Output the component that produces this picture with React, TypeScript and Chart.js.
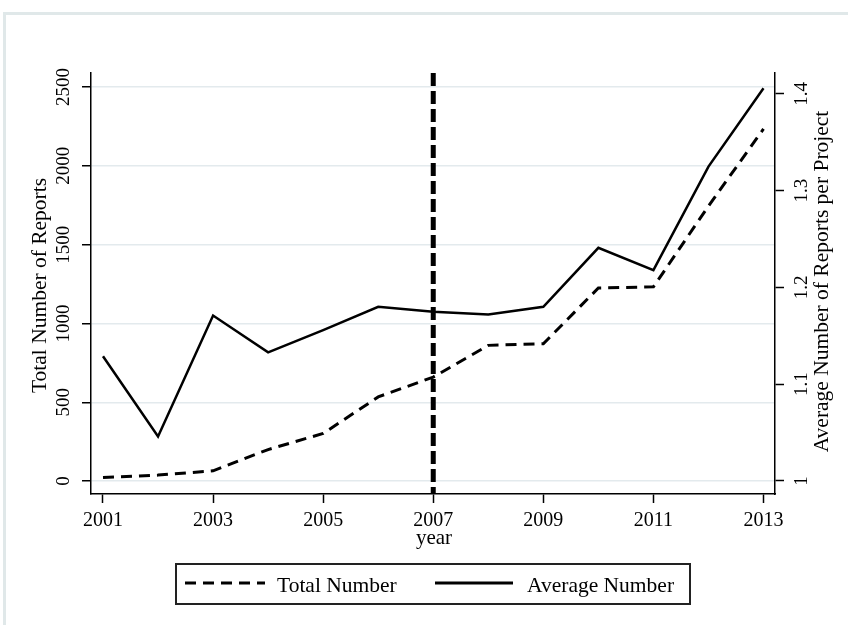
import React, { useEffect, useRef } from 'react';
import { Chart, registerables } from 'chart.js';

Chart.register(...registerables);

// ---- data ----
const years = [2001, 2002, 2003, 2004, 2005, 2006, 2007, 2008, 2009, 2010, 2011, 2012, 2013];
const totalReports = [23, 38, 65, 200, 302, 534, 660, 861, 871, 1225, 1232, 1745, 2234];
const averageReports = [1.129, 1.046, 1.171, 1.133, 1.156, 1.18, 1.175, 1.172, 1.18, 1.241, 1.218, 1.325, 1.406];
const xTickValues = [2001, 2003, 2005, 2007, 2009, 2011, 2013];
const leftTickValues = [0, 500, 1000, 1500, 2000, 2500];
const rightTickValues = [1, 1.1, 1.2, 1.3, 1.4];
const referenceYear = 2007;
const seriesLabels = ['Total Number', 'Average Number'];
const leftAxisTitle = 'Total Number of Reports';
const rightAxisTitle = 'Average Number of Reports per Project';
const xAxisTitle = 'year';

const FONT = "'Liberation Serif', 'Times New Roman', serif";
const DASH = [11, 7];

const decorPlugin = {
  id: 'decor',
  beforeDraw(chart: any) {
    const ctx = chart.ctx;
    ctx.save();
    ctx.fillStyle = '#ffffff';
    ctx.fillRect(0, 0, chart.width, chart.height);
    ctx.strokeStyle = '#e0e8e9';
    ctx.lineWidth = 3;
    ctx.beginPath();
    ctx.moveTo(4.5, chart.height);
    ctx.lineTo(4.5, 13.5);
    ctx.lineTo(chart.width, 13.5);
    ctx.stroke();
    ctx.restore();
  },
  afterDatasetsDraw(chart: any) {
    const ctx = chart.ctx;
    const { top, bottom } = chart.chartArea;
    const x = chart.scales.x.getPixelForValue(referenceYear);
    ctx.save();
    ctx.strokeStyle = '#000';
    ctx.lineWidth = 5;
    ctx.setLineDash([13, 5]);
    ctx.beginPath();
    ctx.moveTo(x, top);
    ctx.lineTo(x, bottom);
    ctx.stroke();
    ctx.restore();
  },
  afterDraw(chart: any) {
    const ctx = chart.ctx;
    const { left, right, top, bottom } = chart.chartArea;
    const cy = (top + bottom) / 2;
    const cx = (left + right) / 2;
    ctx.save();
    ctx.fillStyle = '#000';
    ctx.font = `21.5px ${FONT}`;
    ctx.textAlign = 'center';
    ctx.textBaseline = 'alphabetic';
    // left title
    ctx.save();
    ctx.translate(46, cy + 2);
    ctx.rotate(-Math.PI / 2);
    ctx.fillText(leftAxisTitle, 0, 0);
    ctx.restore();
    // right title
    ctx.save();
    ctx.translate(828, cy - 2);
    ctx.rotate(-Math.PI / 2);
    ctx.fillText(rightAxisTitle, 0, 0);
    ctx.restore();
    // x title
    ctx.font = `21px ${FONT}`;
    ctx.fillText(xAxisTitle, cx + 1, 544);

    // legend
    ctx.strokeStyle = '#222';
    ctx.lineWidth = 2;
    ctx.setLineDash([]);
    ctx.strokeRect(176, 564, 514, 40);
    const ly = 583;
    ctx.lineWidth = 3;
    ctx.strokeStyle = '#000';
    ctx.setLineDash(DASH);
    ctx.beginPath();
    ctx.moveTo(185, ly);
    ctx.lineTo(265, ly);
    ctx.stroke();
    ctx.setLineDash([]);
    ctx.lineWidth = 3;
    ctx.beginPath();
    ctx.moveTo(435, ly);
    ctx.lineTo(513, ly);
    ctx.stroke();
    ctx.textAlign = 'left';
    ctx.font = `21.5px ${FONT}`;
    ctx.fillText(seriesLabels[0], 277, 592);
    ctx.fillText(seriesLabels[1], 527, 592);
    ctx.restore();
  },
};

export default function App() {
  const ref = useRef<HTMLCanvasElement | null>(null);

  useEffect(() => {
    if (!ref.current) return;
    const tickFont = { family: FONT, size: 19 };
    const chart = new Chart(ref.current, {
      type: 'line',
      data: {
        datasets: [
          {
            label: seriesLabels[0],
            data: years.map((x, i) => ({ x, y: totalReports[i] })),
            yAxisID: 'y',
            borderColor: '#000',
            borderWidth: 3,
            borderDash: DASH,
            pointRadius: 0,
            tension: 0,
            fill: false,
          },
          {
            label: seriesLabels[1],
            data: years.map((x, i) => ({ x, y: averageReports[i] })),
            yAxisID: 'y1',
            borderColor: '#000',
            borderWidth: 2.5,
            pointRadius: 0,
            tension: 0,
            fill: false,
          },
        ],
      },
      options: {
        responsive: false,
        animation: false,
        devicePixelRatio: 1,
        layout: { padding: { left: 0, right: 0, top: 73, bottom: 0 } },
        plugins: {
          legend: { display: false },
          tooltip: { enabled: false },
          title: { display: false },
        },
        scales: {
          x: {
            type: 'linear',
            position: 'bottom',
            min: 2000.782,
            max: 2013.209,
            afterBuildTicks: (s: any) => {
              s.ticks = xTickValues.map((v) => ({ value: v }));
            },
            afterFit: (s: any) => {
              s.height = 131;
            },
            ticks: {
              font: { family: FONT, size: 20 },
              color: '#000',
              padding: 6,
              autoSkip: false,
              maxRotation: 0,
              minRotation: 0,
              callback: (v: any) => String(v),
            },
            grid: {
              drawOnChartArea: false,
              drawTicks: true,
              tickLength: 9,
              tickColor: '#000',
              tickWidth: 1.5,
            },
            border: { display: true, color: '#000', width: 1.5 },
          },
          y: {
            type: 'linear',
            position: 'left',
            min: -82,
            max: 2589,
            afterBuildTicks: (s: any) => {
              s.ticks = leftTickValues.map((v) => ({ value: v }));
            },
            afterFit: (s: any) => {
              s.width = 91;
            },
            ticks: {
              font: tickFont,
              color: '#000',
              minRotation: 90,
              maxRotation: 90,
              crossAlign: 'center',
              padding: -1.5,
              autoSkip: false,
              callback: (v: any) => String(v),
            },
            grid: {
              drawOnChartArea: true,
              color: '#e3eaed',
              lineWidth: 1.5,
              tickLength: 9,
              tickColor: '#000',
              tickWidth: 1.5,
            },
            border: { display: true, color: '#000', width: 1.5 },
          },
          y1: {
            type: 'linear',
            position: 'right',
            min: 0.98656,
            max: 1.4217,
            afterBuildTicks: (s: any) => {
              s.ticks = rightTickValues.map((v) => ({ value: v }));
            },
            afterFit: (s: any) => {
              s.width = 73;
            },
            ticks: {
              font: tickFont,
              color: '#000',
              minRotation: 90,
              maxRotation: 90,
              crossAlign: 'center',
              padding: 6.6,
              autoSkip: false,
              callback: (v: any) => String(v),
            },
            grid: {
              drawOnChartArea: false,
              tickLength: 9,
              tickColor: '#000',
              tickWidth: 1.5,
            },
            border: { display: true, color: '#000', width: 1.5 },
          },
        },
      },
      plugins: [decorPlugin],
    } as any);
    return () => chart.destroy();
  }, []);

  return (
    <div style={{ position: 'absolute', left: 0, top: 0, width: 848, height: 625, background: '#fff' }}>
      <canvas ref={ref} width={848} height={625} style={{ display: 'block', width: 848, height: 625 }} />
    </div>
  );
}
